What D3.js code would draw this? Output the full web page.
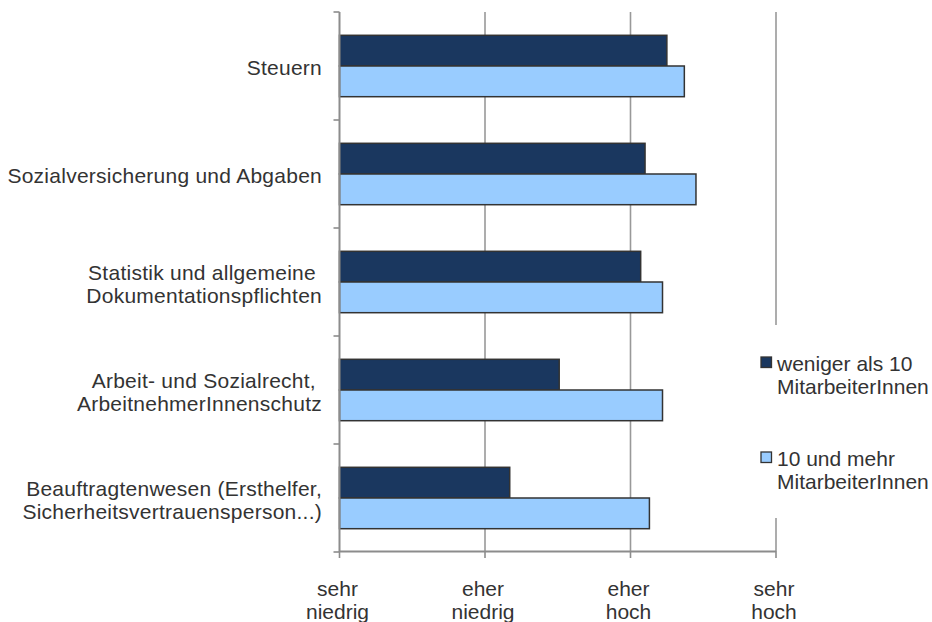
<!DOCTYPE html>
<html>
<head>
<meta charset="utf-8">
<script src="https://cdn.jsdelivr.net/npm/d3@7"></script>
<style>
  html, body { margin: 0; padding: 0; background: #fff; }
  svg { display: block; }
  text { font-family: "Liberation Sans", Arial, sans-serif; fill: #333; }
</style>
</head>
<body>
<svg id="chart" width="932" height="622"></svg>
<script>
// ---- data ----
const categories = [
  ["Steuern"],
  ["Sozialversicherung und Abgaben"],
  ["Statistik und allgemeine ", "Dokumentationspflichten"],
  ["Arbeit- und Sozialrecht, ", "ArbeitnehmerInnenschutz"],
  ["Beauftragtenwesen (Ersthelfer,", "Sicherheitsvertrauensperson...)"]
];
const seriesNames = [
  ["weniger als 10", "MitarbeiterInnen"],
  ["10 und mehr", "MitarbeiterInnen"]
];
const valuesSmall = [3.25, 3.10, 3.07, 2.51, 2.17];   // weniger als 10
const valuesLarge = [3.37, 3.45, 3.22, 3.22, 3.13];   // 10 und mehr
const tickValues = [1, 2, 3, 4];
const tickLabels = [["sehr", "niedrig"], ["eher", "niedrig"], ["eher", "hoch"], ["sehr", "hoch"]];
const colors = ["#1a375f", "#99ccff"];

// ---- layout ----
const svg = d3.select("#chart");
const fontSize = 21;
const lineH = 23;
const axisColor = "#8c8c8c";

const x = d3.scaleLinear().domain([1, 4]).range([339.5, 776]);
const catIdx = d3.range(categories.length);
const y = d3.scaleBand().domain(catIdx).range([12, 552]).padding(0);
const sub = d3.scaleBand().domain([0, 1]).range([23.3, 84.7]).padding(0);

// gridlines
svg.append("g").selectAll("line")
  .data(tickValues.slice(1))
  .join("line")
  .attr("x1", d => x(d)).attr("x2", d => x(d))
  .attr("y1", 12).attr("y2", 552)
  .attr("stroke", "#999").attr("stroke-width", 1.6);

// bars
const seriesData = [valuesSmall, valuesLarge];
const groups = svg.append("g").selectAll("g")
  .data(catIdx)
  .join("g")
  .attr("transform", i => `translate(0,${y(i)})`);
groups.selectAll("rect")
  .data(i => seriesData.map((s, k) => ({ k, v: s[i] })))
  .join("rect")
  .attr("x", x(1))
  .attr("y", d => sub(d.k))
  .attr("width", d => x(d.v) - x(1))
  .attr("height", sub.bandwidth())
  .attr("fill", d => colors[d.k])
  .attr("stroke", "#333")
  .attr("stroke-width", 1.5);

// y axis line and ticks
const yTicks = d3.range(categories.length + 1).map(i => 12 + i * y.step());
svg.append("line")
  .attr("x1", x(1)).attr("x2", x(1)).attr("y1", 12).attr("y2", 552)
  .attr("stroke", axisColor).attr("stroke-width", 2);
svg.append("g").selectAll("line").data(yTicks).join("line")
  .attr("x1", x(1) - 6).attr("x2", x(1))
  .attr("y1", d => d).attr("y2", d => d)
  .attr("stroke", axisColor).attr("stroke-width", 1.6);

// x axis line and ticks
svg.append("line")
  .attr("x1", x(1)).attr("x2", x(4)).attr("y1", 551.5).attr("y2", 551.5)
  .attr("stroke", axisColor).attr("stroke-width", 2);
svg.append("g").selectAll("line").data(tickValues).join("line")
  .attr("x1", d => x(d)).attr("x2", d => x(d))
  .attr("y1", 551.5).attr("y2", 558)
  .attr("stroke", axisColor).attr("stroke-width", 1.6);

// x tick labels
const xl = svg.append("g").selectAll("text").data(tickValues).join("text")
  .attr("text-anchor", "middle")
  .attr("font-size", fontSize);
xl.selectAll("tspan")
  .data((d, i) => tickLabels[i].map(t => ({ t, v: d })))
  .join("tspan")
  .attr("x", d => x(d.v) - 2)
  .attr("y", (d, j) => 596 + j * lineH)
  .text(d => d.t);

// category labels
const cl = svg.append("g").selectAll("text").data(catIdx).join("text")
  .attr("text-anchor", "end")
  .attr("font-size", fontSize)
  .attr("letter-spacing", 0.25)
  .style("white-space", "pre");
cl.selectAll("tspan")
  .data(i => categories[i].map((t, j) => ({ t, j, i, n: categories[i].length })))
  .join("tspan")
  .attr("x", 322)
  .attr("y", d => y(d.i) + y.bandwidth() / 2 + 9 - (d.n - 1) * lineH / 2 + d.j * lineH)
  .text(d => d.t);

// legend
const lg = svg.append("g");
lg.append("rect").attr("x", 745).attr("y", 325).attr("width", 187).attr("height", 193).attr("fill", "#fff");
const legendTop = [357, 452];
seriesNames.forEach((lines, k) => {
  lg.append("rect")
    .attr("x", 761).attr("y", legendTop[k])
    .attr("width", 10.5).attr("height", 10.5)
    .attr("fill", colors[k]).attr("stroke", "#333").attr("stroke-width", 1.3);
  const t = lg.append("text").attr("font-size", fontSize);
  lines.forEach((s, j) => {
    t.append("tspan").attr("x", 777).attr("y", legendTop[k] + 14 + j * lineH).text(s);
  });
});
</script>
</body>
</html>
